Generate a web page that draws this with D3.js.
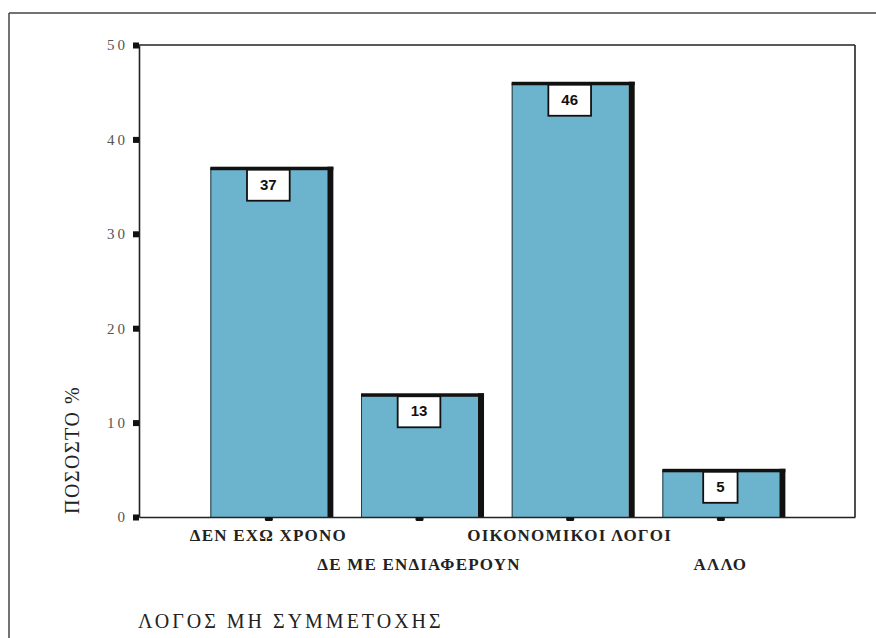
<!DOCTYPE html>
<html>
<head>
<meta charset="utf-8">
<script src="https://cdn.jsdelivr.net/npm/d3@7"></script>
<style>
  html, body { margin: 0; padding: 0; background: #fff; }
  svg { display: block; }
</style>
</head>
<body>
<svg id="chart" width="876" height="638"></svg>
<script>
// Reasons for non-participation, share of respondents (%)
const categories = ["ΔΕΝ ΕΧΩ ΧΡΟΝΟ", "ΔΕ ΜΕ ΕΝΔΙΑΦΕΡΟΥΝ", "ΟΙΚΟΝΟΜΙΚΟΙ ΛΟΓΟΙ", "ΑΛΛΟ"];
const values = [37, 13, 46, 5];
const yTicks = [0, 10, 20, 30, 40, 50];
const yTitle = "ΠΟΣΟΣΤΟ %";
const xTitle = "ΛΟΓΟΣ ΜΗ ΣΥΜΜΕΤΟΧΗΣ";

const svg = d3.select("#chart");
const serif = "'Liberation Serif', 'Times New Roman', serif";
const sans = "'Liberation Sans', Arial, sans-serif";

const plot = { left: 139, right: 855, top: 45, bottom: 517 };

const x = d3.scalePoint()
  .domain(categories)
  .range([plot.left, plot.right])
  .padding(0.876)
  .align(0.49);

const y = d3.scaleLinear()
  .domain([0, 50])
  .range([plot.bottom, plot.top]);

const barFill = "#6cb3cd";
const faceLeft = 58, faceRight = 59, shadow = 6;

// outer page frame
svg.append("line").attr("x1", 9).attr("x2", 876).attr("y1", 13).attr("y2", 13)
  .attr("stroke", "#444").attr("stroke-width", 1.5);
svg.append("line").attr("x1", 9).attr("x2", 9).attr("y1", 13).attr("y2", 638)
  .attr("stroke", "#444").attr("stroke-width", 1.5);

// bars
const bars = svg.append("g").selectAll("g.bar")
  .data(categories.map((c, i) => ({ c, v: values[i] })))
  .join("g").attr("class", "bar");

bars.append("rect")
  .attr("x", d => x(d.c) - faceLeft)
  .attr("y", d => y(d.v))
  .attr("width", faceLeft + faceRight)
  .attr("height", d => y(0) - y(d.v))
  .attr("fill", barFill);

// thin left edge
bars.append("line")
  .attr("x1", d => x(d.c) - faceLeft + 0.5).attr("x2", d => x(d.c) - faceLeft + 0.5)
  .attr("y1", d => y(d.v)).attr("y2", y(0))
  .attr("stroke", "#2a3a40").attr("stroke-width", 1);

// right-hand shadow
bars.append("rect")
  .attr("x", d => x(d.c) + faceRight)
  .attr("y", d => y(d.v) - 1)
  .attr("width", shadow)
  .attr("height", d => y(0) - y(d.v) + 1)
  .attr("fill", "#111");

// top edge
bars.append("rect")
  .attr("x", d => x(d.c) - faceLeft)
  .attr("y", d => y(d.v) - 1)
  .attr("width", faceLeft + faceRight + shadow)
  .attr("height", 3.5)
  .attr("fill", "#111");

// value boxes
bars.each(function(d) {
  const g = d3.select(this);
  const t = g.append("text")
    .attr("x", x(d.c))
    .attr("y", y(d.v) + 2 + 16)
    .attr("text-anchor", "middle")
    .attr("dominant-baseline", "middle")
    .attr("font-family", sans)
    .attr("font-weight", "bold")
    .attr("font-size", 15)
    .attr("fill", "#111")
    .text(d.v);
  const w = t.node().getComputedTextLength() + 26;
  g.insert("rect", "text")
    .attr("x", x(d.c) - w / 2)
    .attr("y", y(d.v) + 2)
    .attr("width", w)
    .attr("height", 31)
    .attr("fill", "#fff")
    .attr("stroke", "#111")
    .attr("stroke-width", 1.8);
});

// plot frame
const frame = svg.append("g").attr("stroke", "#222").attr("stroke-width", 1.6).attr("fill", "none");
frame.append("line").attr("x1", plot.left).attr("x2", plot.right).attr("y1", plot.top).attr("y2", plot.top);
frame.append("line").attr("x1", plot.right).attr("x2", plot.right).attr("y1", plot.top).attr("y2", plot.bottom);

// y axis
const yAxis = svg.append("g")
  .attr("transform", `translate(${plot.left},0)`)
  .call(d3.axisLeft(y).tickValues(yTicks).tickSize(0).tickPadding(11));
yAxis.select(".domain").attr("stroke", "#222").attr("stroke-width", 1.6);
yAxis.selectAll(".tick text")
  .attr("font-family", serif)
  .attr("font-size", 15)
  .attr("letter-spacing", 3)
  .attr("fill", "#555");
yAxis.selectAll(".tick").append("rect")
  .attr("x", -6).attr("y", -3).attr("width", 6).attr("height", 6)
  .attr("fill", "#111");

// x axis
const xAxis = svg.append("g")
  .attr("transform", `translate(0,${plot.bottom})`)
  .call(d3.axisBottom(x).tickSize(0).tickFormat(""));
xAxis.select(".domain").attr("stroke", "#222").attr("stroke-width", 1.6);
xAxis.selectAll(".tick").append("rect")
  .attr("x", -4).attr("y", 0).attr("width", 8).attr("height", 4).attr("rx", 1.5)
  .attr("fill", "#111");

// staggered category labels
svg.append("g").selectAll("text")
  .data(categories)
  .join("text")
  .attr("x", d => x(d))
  .attr("y", (d, i) => i % 2 === 0 ? 541 : 570)
  .attr("text-anchor", "middle")
  .attr("font-family", serif)
  .attr("font-weight", "bold")
  .attr("font-size", 17)
  .attr("letter-spacing", 1.2)
  .attr("fill", "#222")
  .text(d => d);

// axis titles
svg.append("text")
  .attr("x", 138).attr("y", 628)
  .attr("font-family", serif)
  .attr("font-size", 20)
  .attr("letter-spacing", 3)
  .attr("fill", "#222")
  .text(xTitle);

svg.append("text")
  .attr("transform", "translate(79,450) rotate(-90)")
  .attr("text-anchor", "middle")
  .attr("font-family", serif)
  .attr("font-size", 20)
  .attr("letter-spacing", 1.5)
  .attr("fill", "#222")
  .text(yTitle);
</script>
</body>
</html>
